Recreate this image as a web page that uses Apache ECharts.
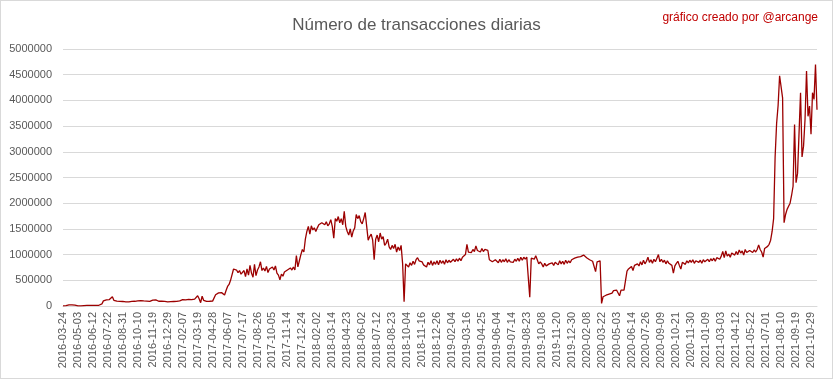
<!DOCTYPE html>
<html><head><meta charset="utf-8">
<script src="https://cdn.jsdelivr.net/npm/echarts@6/dist/echarts.min.js"></script>
<style>
html,body{margin:0;padding:0;background:#fff}
#c{position:absolute;left:0;top:0;width:833px;height:379px}
#frame{position:absolute;left:0;top:0;width:833px;height:379px;box-sizing:border-box;border:1px solid #d9d9d9;pointer-events:none}
</style>
</head><body><div id="c"></div><div id="frame"></div>
<script>
// Tick labels (every 10th sample)
const tickLabels = ["2016-03-24","2016-05-03","2016-06-12","2016-07-22","2016-08-31","2016-10-10","2016-11-19","2016-12-29",
"2017-02-07","2017-03-19","2017-04-28","2017-06-07","2017-07-17","2017-08-26","2017-10-05","2017-11-14","2017-12-24",
"2018-02-02","2018-03-14","2018-04-23","2018-06-02","2018-07-12","2018-08-23","2018-10-04","2018-11-16","2018-12-26",
"2019-02-04","2019-03-16","2019-04-25","2019-06-04","2019-07-14","2019-08-23","2019-10-08","2019-11-20","2019-12-30",
"2020-02-08","2020-03-22","2020-05-03","2020-06-14","2020-07-26","2020-09-09","2020-10-21","2020-11-30",
"2021-01-09","2021-03-03","2021-04-12","2021-05-22","2021-07-01","2021-08-10","2021-09-19","2021-10-29"];

// Daily transactions (thousands), sampled
const transactionsK = [
3,4,6,15,20,22,22,20,15,5,
2,1,1,2,8,12,13,12,13,14,
13,14,14,15,14,15,40,100,110,120,
115,125,120,180,110,100,95,92,90,95,
88,82,80,85,80,88,90,85,92,88,
100,95,105,92,98,110,95,100,90,105,
115,105,120,110,92,88,95,85,90,88,
82,90,85,92,88,95,90,120,100,130,
125,150,120,140,130,145,125,150,135,160,
200,140,65,190,110,95,90,85,92,88,
95,100,220,240,255,250,260,245,215,300,
380,420,500,480,720,740,700,650,690,620,
620,690,570,720,600,790,640,560,810,590,
700,760,860,690,740,680,770,650,720,690,
760,700,780,640,600,510,620,580,660,640,
700,680,740,700,760,700,980,760,880,1000,
1100,1050,1300,1450,1550,1400,1560,1480,1520,1450,
1520,1580,1550,1620,1600,1580,1640,1560,1600,1680,
1550,1320,1700,1650,1740,1620,1700,1580,1840,1550,
1450,1380,1500,1340,1460,1520,1780,1700,1760,1640,
1600,1700,1820,1550,1280,1350,1400,1280,900,1300,
1380,1250,1420,1300,1350,1180,1220,1300,1150,1100,
1180,1120,1200,1050,1150,1080,1180,830,85,820,
830,760,840,790,870,810,900,940,880,910,
860,800,830,760,850,800,880,790,860,810,
880,800,890,830,880,810,900,840,890,850,
850,910,860,920,870,930,880,950,940,1000,
1200,1050,1080,1040,1100,1060,1170,1080,1110,1050,
1120,1060,1100,1120,1080,900,920,860,880,900,
880,840,910,850,900,860,920,850,900,860,
890,850,910,870,930,870,950,890,950,910,
950,920,170,930,960,910,980,900,820,860,
820,760,830,780,760,820,790,840,790,850,
870,800,880,820,870,810,890,830,880,840,
900,870,930,900,950,920,960,980,990,960,
940,920,900,890,870,880,670,860,870,880,
50,180,190,210,220,230,240,250,300,310,
310,305,200,310,315,310,320,680,720,740,
770,690,790,760,820,780,860,800,890,820,
870,950,850,900,830,910,860,930,1000,860,
910,850,890,820,880,830,860,790,640,780,
830,870,790,720,850,870,810,880,840,890,
850,900,830,880,910,850,890,830,900,860,
890,910,860,920,880,930,870,940,950,910,
970,1060,940,1070,970,1010,950,1030,1050,990,
1060,1000,1090,1030,1070,990,1100,1040,1020,1080,
1060,1040,1090,1050,1100,1190,1100,1050,950,1120,
1130,1160,1200,1280,1450,1700,2900,3550,3900,4480,
4490,4050,1620,1780,1880,1940,2000,2150,2330,3530,
2400,2580,2600,4150,2900,3110,3630,4570,3690,3890,
3340,4150,4020,4700,3820
];

const LABEL_STEP = 10;
const categories = transactionsK.map((v, i) => (i % LABEL_STEP === 0 ? (tickLabels[i / LABEL_STEP] || '') : ''));
const values = transactionsK.map(v => v * 1000);

const chart = echarts.init(document.getElementById('c'), null, {renderer: 'canvas'});
chart.setOption({
  animation: false,
  backgroundColor: '#fff',
  title: [
    {text: 'Número de transacciones diarias', left: 'center', top: 12,
     textStyle: {fontFamily: 'Liberation Sans', fontSize: 17, fontWeight: 'normal', color: '#595959'}},
    {text: 'gráfico creado por @arcange', right: 10, top: 7,
     textStyle: {fontFamily: 'Liberation Sans', fontSize: 12, fontWeight: 'normal', color: '#c00000'}}
  ],
  grid: {left: 63, right: 16, top: 49, bottom: 73, containLabel: false},
  xAxis: {
    type: 'category', data: categories, boundaryGap: false,
    axisLine: {lineStyle: {color: '#d9d9d9'}},
    axisTick: {show: false},
    axisLabel: {interval: LABEL_STEP - 1, rotate: 90, margin: 6, color: '#595959',
      fontFamily: 'Liberation Sans', fontSize: 11}
  },
  yAxis: {
    type: 'value', min: 0, max: 5000000, interval: 500000,
    axisLine: {show: false}, axisTick: {show: false},
    splitLine: {lineStyle: {color: '#d9d9d9'}},
    axisLabel: {margin: 11, color: '#595959', fontFamily: 'Liberation Sans', fontSize: 11,
      formatter: v => String(v)}
  },
  series: [{
    type: 'line', data: values, showSymbol: false, symbol: 'none',
    lineStyle: {color: '#9c0000', width: 1.3}, itemStyle: {color: '#9c0000'}
  }]
});
</script>
</body></html>
